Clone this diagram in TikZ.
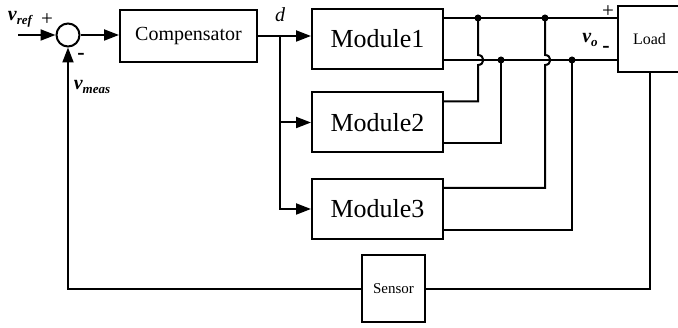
\documentclass[tikz,border=0pt]{standalone}
\usepackage{fontspec}
\setmainfont{Liberation Serif}
\usetikzlibrary{arrows.meta, positioning, calc}

% bold italic signal name with a lowered subscript
\newcommand{\signame}[2]{{\fontsize{20}{20}\selectfont\bfseries\itshape #1\raisebox{-0.45ex}{\fontsize{13}{13}\selectfont #2}}}

\begin{document}
\begin{tikzpicture}[x=1pt, y=-1pt,
  blk/.style={rectangle, draw, line width=2pt, align=center, inner sep=0pt},
  modblk/.style={blk, minimum width=131pt, minimum height=60pt, font=\fontsize{26}{26}\selectfont},
  sumnode/.style={circle, draw, line width=2pt, minimum size=23pt, inner sep=0pt},
  wire/.style={line width=2pt},
  arr/.style={wire, -{Triangle[length=15pt, width=11pt]}},
  junc/.style={circle, fill, inner sep=0pt, minimum size=7pt},
  plus/.style={font=\fontsize{21}{21}\selectfont, inner sep=0pt},
  minus/.style={font=\fontsize{22}{22}\selectfont\bfseries, inner sep=0pt},
]
\clip (0,0) rectangle (678,328);

%% --- forward path ---
\coordinate (vin) at (18,35);
\node[sumnode] (sum) at (68,35) {};
\node[blk, minimum width=137pt, minimum height=52pt, font=\fontsize{20}{20}\selectfont] (comp) at (188.5,36) {Compensator};
\coordinate (dsplit) at (280,36);

\node[modblk] (mod1) at (377.5,39) {Module1};
\node[modblk] (mod2) at (377.5,122.5) {Module2};
\node[modblk] (mod3) at (377.5,209) {Module3};

\node[blk, minimum width=63pt, minimum height=66pt, font=\fontsize{16}{16}\selectfont] (load) at (649.5,39) {Load};
\node[blk, minimum width=63pt, minimum height=67pt, font=\fontsize{15}{15}\selectfont] (sensor) at (393.5,289) {Sensor};

\draw[arr] (vin) -- (sum.west);
\draw[arr] (sum.east) -- (sum.east -| comp.west);
\draw[arr] (comp.east) -- (comp.east -| mod1.west);
\draw[wire] (dsplit) -- (dsplit |- mod3.west);
\draw[arr] (dsplit) |- (mod2.west);
\draw[arr] (dsplit) |- (mod3.west);

%% --- output bus ---
\coordinate (ptop) at ([yshift=21pt]load.west);
\coordinate (pbot) at ([yshift=-21pt]load.west);
\draw[wire] ([yshift=21pt]mod1.east) -- (ptop);
\draw[wire] ([yshift=-21pt]mod1.east) -- (pbot);

\coordinate (j1) at (478,18);
\coordinate (j2) at (501,60);
\coordinate (j3) at (545,18);
\coordinate (j4) at (572,60);

% top taps hop over the lower rail
\draw[wire] ([yshift=21pt]mod2.east) -| (478,65) .. controls (485,65) and (485,55) .. (478,55) -- (j1);
\draw[wire] ([yshift=-21pt]mod2.east) -| (j2);
\draw[wire] ([yshift=21pt]mod3.east) -| (545,65) .. controls (552,65) and (552,55) .. (545,55) -- (j3);
\draw[wire] ([yshift=-21pt]mod3.east) -| (j4);
\foreach \j in {j1,j2,j3,j4}
  \node[junc] at (\j) {};

%% --- feedback ---
\draw[wire] (load.south) |- (sensor.east);
\draw[arr] (sensor.west) -| (sum.south);

%% --- labels ---
\node at (20,19) {\signame{v}{ref}};
\node[plus] at (47,20) {+};
\node[minus] at (81,56) {-};
\node at (92,87) {\signame{v}{meas}};
\node[font=\fontsize{20}{20}\selectfont\itshape] at (280,15) {d};
\node[plus] at (608,12) {+};
\node at (590,40) {\signame{v}{o}};
\node[minus] at (606,49) {-};
\end{tikzpicture}
\end{document}
